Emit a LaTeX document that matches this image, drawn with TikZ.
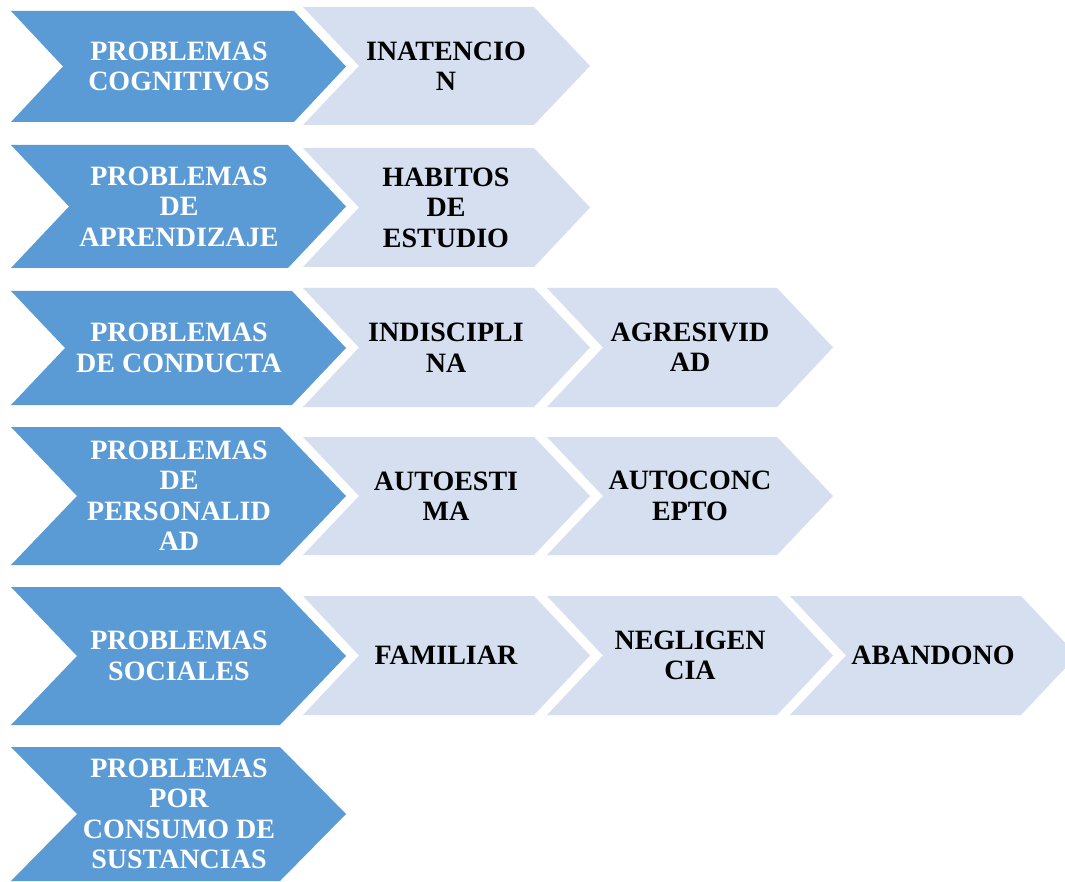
\documentclass[tikz,border=0pt]{standalone}
\usepackage{fontspec}
\setmainfont{Liberation Serif}
\definecolor{darkchev}{RGB}{91,155,213}
\definecolor{lightchev}{RGB}{213,223,239}
% #1 style, #2 left x, #3 tip x, #4 top y, #5 bottom y, #6 depth
\newcommand\mychev[6]{\fill[#1] (#2,#4) -- ({#3-#6},#4) -- (#3,{(#4+#5)/2}) -- ({#3-#6},#5) -- (#2,#5) -- ({#2+#6},{(#4+#5)/2}) -- cycle;}
\begin{document}
\begin{tikzpicture}[x=1pt,y=-1pt,
  dfill/.style={fill=darkchev},
  lfill/.style={fill=lightchev},
  dtext/.style={text=white,font=\bfseries\fontsize{28}{30.5}\selectfont,align=center,inner sep=0pt},
  ltext/.style={text=black,font=\bfseries\fontsize{28}{30.5}\selectfont,align=center,inner sep=0pt}]
\clip (0,0) rectangle (1065,882);
\fill[white] (0,0) rectangle (1065,882);
% dark chevrons
\mychev{dfill}{11}{346}{11}{122}{52}
\mychev{dfill}{11}{346}{145}{268}{58}
\mychev{dfill}{11}{346}{291}{405}{54}
\mychev{dfill}{11}{346}{427}{565}{66}
\mychev{dfill}{11}{346}{587}{725}{66}
\mychev{dfill}{11}{346}{747}{881}{66}
% light chevrons
\mychev{lfill}{303}{590}{7}{125}{56}
\mychev{lfill}{303}{590}{148}{267}{56}
\mychev{lfill}{303}{590}{288}{407}{56}
\mychev{lfill}{547}{833}{288}{407}{56}
\mychev{lfill}{303}{590}{437}{555}{56}
\mychev{lfill}{547}{833}{437}{555}{56}
\mychev{lfill}{303}{590}{596}{715}{56}
\mychev{lfill}{547}{833}{596}{715}{56}
\mychev{lfill}{790}{1077}{596}{715}{56}
% dark texts
\node[dtext] (d1) at (179,66.5) {PROBLEMAS\\COGNITIVOS};
\node[dtext] (d2) at (179,206.5) {PROBLEMAS\\DE\\APRENDIZAJE};
\node[dtext] (d3) at (179,348) {PROBLEMAS\\DE CONDUCTA};
\node[dtext] (d4) at (179,496) {PROBLEMAS\\DE\\PERSONALID\\AD};
\node[dtext] (d5) at (179,656) {PROBLEMAS\\SOCIALES};
\node[dtext] (d6) at (179,814) {PROBLEMAS\\POR\\CONSUMO DE\\SUSTANCIAS};
% light texts
\node[ltext] (l11) at (446,66) {INATENCIO\\N};
\node[ltext] (l21) at (446,207.5) {HABITOS\\DE\\ESTUDIO};
\node[ltext] (l31) at (446,347.5) {INDISCIPLI\\NA};
\node[ltext] (l32) at (690,347.5) {AGRESIVID\\AD};
\node[ltext] (l41) at (446,496) {AUTOESTI\\MA};
\node[ltext] (l42) at (690,496) {AUTOCONC\\EPTO};
\node[ltext] (l51) at (446,655.5) {FAMILIAR};
\node[ltext] (l52) at (690,655.5) {NEGLIGEN\\CIA};
\node[ltext] (l53) at (933,655.5) {ABANDONO};
\end{tikzpicture}
\end{document}
